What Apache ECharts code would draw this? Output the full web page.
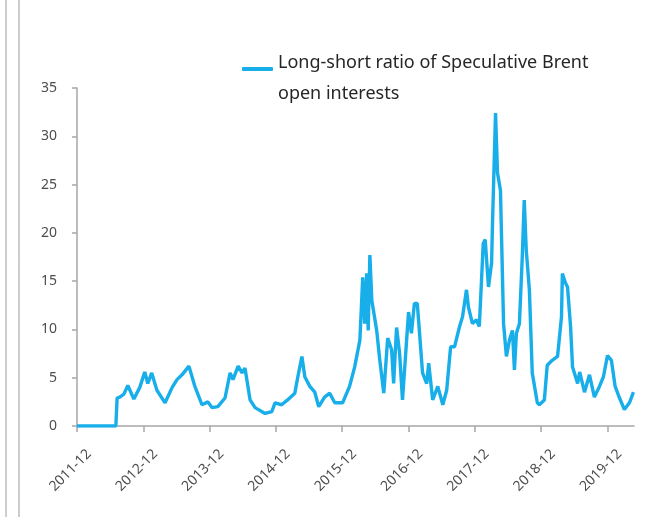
<!DOCTYPE html>
<html>
<head>
<meta charset="utf-8">
<script src="https://cdn.jsdelivr.net/npm/echarts@6/dist/echarts.min.js"></script>
<style>
  html, body { margin: 0; padding: 0; background: #fff; }
  #chart { width: 669px; height: 517px; }
</style>
</head>
<body>
<div id="chart"></div>
<script>
// weekly-ish readings of the long/short ratio
var dates = [
  '2011-12-01', '2012-07-02', '2012-07-09', '2012-07-24', '2012-08-16', '2012-09-07', '2012-10-10', '2012-11-12', '2012-12-09', '2012-12-26',
  '2013-01-17', '2013-02-14', '2013-03-30', '2013-05-08', '2013-06-04', '2013-07-01', '2013-08-09', '2013-09-11', '2013-10-20', '2013-11-22', '2013-12-14',
  '2014-01-16', '2014-02-23', '2014-03-23', '2014-04-08', '2014-05-06', '2014-05-28', '2014-06-13', '2014-07-11', '2014-08-08', '2014-10-02', '2014-11-09', '2014-11-26',
  '2015-01-02', '2015-02-04', '2015-03-14', '2015-03-31', '2015-04-22', '2015-05-08', '2015-06-05', '2015-07-02', '2015-07-24', '2015-08-26', '2015-09-23', '2015-10-21', '2015-12-03',
  '2016-01-11', '2016-02-08', '2016-03-07', '2016-03-23', '2016-04-03', '2016-04-14', '2016-04-22', '2016-05-01', '2016-05-12', '2016-06-08', '2016-06-25', '2016-07-17', '2016-08-08', '2016-08-30', '2016-09-10', '2016-09-26', '2016-10-13', '2016-10-29', '2016-12-01', '2016-12-17',
  '2017-01-03', '2017-01-19', '2017-02-16', '2017-03-10', '2017-03-21', '2017-04-12', '2017-05-10', '2017-06-07', '2017-06-28', '2017-07-20', '2017-08-11', '2017-09-08', '2017-09-24', '2017-10-16', '2017-10-27', '2017-11-18', '2017-12-10', '2017-12-26',
  '2018-01-17', '2018-01-28', '2018-02-14', '2018-03-02', '2018-03-07', '2018-03-24', '2018-04-04', '2018-04-20', '2018-05-07', '2018-05-23', '2018-06-09', '2018-06-25', '2018-07-06', '2018-07-17', '2018-08-03', '2018-08-19', '2018-08-30', '2018-09-10', '2018-09-27', '2018-10-13', '2018-11-10', '2018-11-21', '2018-12-19',
  '2019-01-04', '2019-02-01', '2019-02-28', '2019-03-22', '2019-03-27', '2019-04-13', '2019-04-24', '2019-05-11', '2019-05-22', '2019-06-19', '2019-06-30', '2019-07-27', '2019-08-24', '2019-09-20', '2019-10-18', '2019-11-09', '2019-12-01', '2019-12-23',
  '2020-01-13', '2020-02-04', '2020-03-03', '2020-03-31', '2020-04-22'
]
var ratio = [
  0, 0, 2.9, 3.0, 3.3, 4.2, 2.8, 4.0, 5.6, 4.4,
  5.5, 3.7, 2.4, 4.0, 4.8, 5.3, 6.2, 4.1, 2.2, 2.5, 1.9,
  2.0, 2.9, 5.5, 4.8, 6.2, 5.5, 6.0, 2.7, 1.9, 1.3, 1.5, 2.4,
  2.2, 2.7, 3.4, 5.1, 7.2, 5.1, 4.1, 3.5, 2.0, 3.0, 3.4, 2.4, 2.4,
  4.1, 6.1, 8.9, 15.4, 10.6, 15.8, 9.9, 17.7, 13.0, 9.9, 6.8, 3.4, 9.1, 7.9, 4.4, 10.2, 7.5, 2.7, 11.8, 9.6,
  12.7, 12.7, 5.5, 4.4, 6.5, 2.7, 4.1, 2.2, 3.7, 8.2, 8.2, 10.3, 11.3, 14.1, 12.3, 10.6, 11.0, 10.3,
  18.9, 19.3, 14.4, 16.9, 21.0, 32.4, 26.2, 24.4, 10.6, 7.2, 8.9, 9.9, 5.8, 9.6, 10.6, 17.5, 23.4, 18.2, 14.1, 5.5, 2.4, 2.2, 2.7,
  6.3, 6.8, 7.2, 11.3, 15.8, 14.8, 14.4, 10.3, 6.1, 4.4, 5.6, 3.5, 5.3, 3.0, 4.1, 5.1, 7.3, 6.8,
  4.1, 3.0, 1.7, 2.4, 3.5
]
var tickLabels = ['2011-12', '2012-12', '2013-12', '2014-12', '2015-12', '2016-12', '2017-12', '2018-12', '2019-12']
var seriesName = 'Long-short ratio of Speculative Brent open interests'

// months counted from 2011-12-01
function monthsSince (s) {
  var p = s.split('-').map(Number)
  var day = p[2] || 1
  var dim = new Date(p[0], p[1], 0).getDate()
  return (p[0] - 2011) * 12 + (p[1] - 12) + (day - 1) / dim
}

var tickPos = tickLabels.map(function (t) { return monthsSince(t) })
var lineData = dates.map(function (d, i) { return [monthsSince(d), ratio[i]] })

var myChart = echarts.init(document.getElementById('chart'))
var axisColor = '#a6a6a6'
var labelFont = {
  color: '#4d4d4d',
  fontSize: 14,
  fontFamily: 'Noto Sans'
}

myChart.setOption({
  animation: false,
  grid: {
    left: 77,
    right: 35,
    top: 88,
    bottom: 91
  },
  legend: {
    left: 242,
    top: 54,
    padding: 0,
    itemWidth: 31,
    itemHeight: 4,
    icon: 'roundRect',
    data: [seriesName],
    // first line sits beside the icon, second line hangs below
    formatter: function () {
      return '{a|Long-short ratio of Speculative Brent}\n{b|open interests}'
    },
    textStyle: {
      color: '#262626',
      fontSize: 18,
      fontFamily: 'Noto Sans',
      rich: {
        a: { fontSize: 18, fontFamily: 'Noto Sans', color: '#262626', lineHeight: 50 },
        b: { fontSize: 18, fontFamily: 'Noto Sans', color: '#262626', lineHeight: 12 }
      }
    }
  },
  xAxis: {
    type: 'value',
    min: 0,
    max: monthsSince('2020-04-25'),
    splitLine: { show: false },
    axisLine: { lineStyle: { color: axisColor, width: 1.5 } },
    axisTick: { show: true, length: 6, customValues: tickPos, lineStyle: { color: axisColor, width: 1.5 } },
    axisLabel: Object.assign({
      rotate: 45,
      margin: 28,
      verticalAlign: 'top',
      padding: [0, -10, 0, 0],
      customValues: tickPos,
      formatter: function (v) {
        var i = tickPos.indexOf(v)
        return i >= 0 ? tickLabels[i] : ''
      }
    }, labelFont)
  },
  yAxis: {
    type: 'value',
    min: 0,
    max: 35,
    interval: 5,
    splitLine: { show: false },
    axisLine: { show: true, lineStyle: { color: axisColor, width: 1.5 } },
    axisTick: { show: true, length: 5, lineStyle: { color: axisColor, width: 1.5 } },
    axisLabel: Object.assign({ margin: 20 }, labelFont)
  },
  graphic: [
    { type: 'line', shape: { x1: 6, y1: 0, x2: 6, y2: 517 }, style: { stroke: '#9a9a9a', lineWidth: 1 } },
    { type: 'line', shape: { x1: 19, y1: 0, x2: 19, y2: 517 }, style: { stroke: '#9a9a9a', lineWidth: 1 } }
  ],
  series: [{
    name: seriesName,
    type: 'line',
    data: lineData,
    showSymbol: false,
    itemStyle: { color: '#17aeea' },
    lineStyle: { color: '#17aeea', width: 3.4 }
  }]
})
</script>
</body>
</html>
